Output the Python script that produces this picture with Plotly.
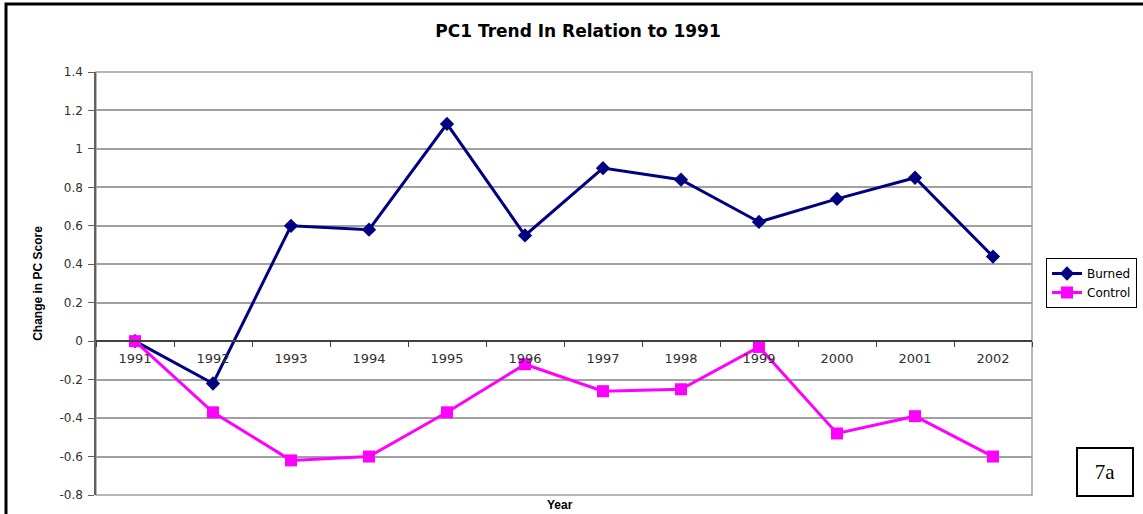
import plotly.graph_objects as go

years = ["1991", "1992", "1993", "1994", "1995", "1996", "1997", "1998", "1999", "2000", "2001", "2002"]
burned = [0.0, -0.22, 0.60, 0.58, 1.13, 0.55, 0.90, 0.84, 0.62, 0.74, 0.85, 0.44]
control = [0.0, -0.37, -0.62, -0.60, -0.37, -0.12, -0.26, -0.25, -0.03, -0.48, -0.39, -0.60]
y_ticks = [1.4, 1.2, 1.0, 0.8, 0.6, 0.4, 0.2, 0.0, -0.2, -0.4, -0.6, -0.8]
y_tick_text = ["1.4", "1.2", "1", "0.8", "0.6", "0.4", "0.2", "0", "-0.2", "-0.4", "-0.6", "-0.8"]

YMIN, YMAX = -0.8, 1.4
zero_pos = (0 - YMIN) / (YMAX - YMIN)

L, T, PW, PH = 96, 72, 936, 423
W, H = 1143, 514

fig = go.Figure()
fig.add_trace(go.Scatter(
    x=years, y=burned, name="Burned", mode="lines+markers",
    line=dict(color="#000080", width=3),
    marker=dict(symbol="diamond", size=11, color="#000080"),
))
fig.add_trace(go.Scatter(
    x=years, y=control, name="Control", mode="lines+markers",
    line=dict(color="#FF00FF", width=3),
    marker=dict(symbol="square", size=12, color="#FF00FF"),
))

fig.update_layout(
    width=W, height=H,
    margin=dict(l=L, r=W - L - PW, t=T, b=H - T - PH, autoexpand=False),
    paper_bgcolor="white", plot_bgcolor="white",
    font=dict(family="DejaVu Sans", size=11, color="#000000"),
    title=dict(text="<b>PC1 Trend In Relation to 1991</b>", x=578 / W, xanchor="center",
               y=1 - 31 / H, yanchor="middle",
               font=dict(family="DejaVu Sans", size=17, color="#000000")),
    xaxis=dict(
        type="category", anchor="free", position=zero_pos,
        showline=True, linecolor="#404040", linewidth=1.5,
        ticks="outside", tickson="boundaries", ticklen=5, tickcolor="#404040",
        showgrid=False, zeroline=False, ticklabelstandoff=5,
        tickfont=dict(family="DejaVu Sans", size=13, color="#303030"),
        range=[-0.5, 11.5],
    ),
    yaxis=dict(
        range=[YMIN, YMAX], tickvals=y_ticks, ticktext=y_tick_text,
        showline=True, linecolor="#606060", linewidth=1.5,
        ticks="outside", ticklen=6, tickcolor="#606060",
        showgrid=True, gridcolor="#A0A0A0", gridwidth=1.5,
        zeroline=False, ticklabelstandoff=3,
        tickfont=dict(family="DejaVu Sans", size=12, color="#303030"),
        title=dict(text="<b>Change in PC Score</b>",
                   font=dict(family="Arial, Liberation Sans", size=12, color="#000000"), standoff=14),
    ),
    legend=dict(
        xref="container", yref="container",
        x=1046 / W, y=1 - 283 / H, xanchor="left", yanchor="middle",
        bordercolor="#000000", borderwidth=1, bgcolor="white",
        font=dict(family="DejaVu Sans", size=12, color="#000000"), tracegroupgap=0,
        itemwidth=30,
    ),
    showlegend=True,
)

# plot-area border
fig.add_shape(type="rect", xref="paper", yref="paper", x0=0, x1=1, y0=0, y1=1,
              line=dict(color="#A0A0A0", width=1.5), layer="below")
# outer chart border
fig.add_shape(type="rect", xref="paper", yref="paper",
              x0=(6 - L) / PW, x1=(1170 - L) / PW,
              y0=-60 / PH, y1=1 + (T - 4) / PH,
              line=dict(color="#000000", width=3))

fig.add_annotation(text="<b>Year</b>", xref="paper", yref="paper",
                   x=(560 - L) / PW, y=-(514 - T - PH) / PH, xanchor="center", yanchor="bottom",
                   showarrow=False, font=dict(family="Arial, Liberation Sans", size=12, color="#000000"))
fig.add_annotation(text="7a", xref="paper", yref="paper",
                   x=(1105 - L) / PW, y=1 - (472 - T) / PH,
                   xanchor="center", yanchor="middle", showarrow=False,
                   font=dict(family="Liberation Serif, Times New Roman", size=21, color="#000000"),
                   bordercolor="#000000", borderwidth=2, borderpad=10, bgcolor="white",
                   width=34, height=26)

fig.write_html("out.html", config={"displayModeBar": False},
               post_script="document.body.style.margin='0';")
